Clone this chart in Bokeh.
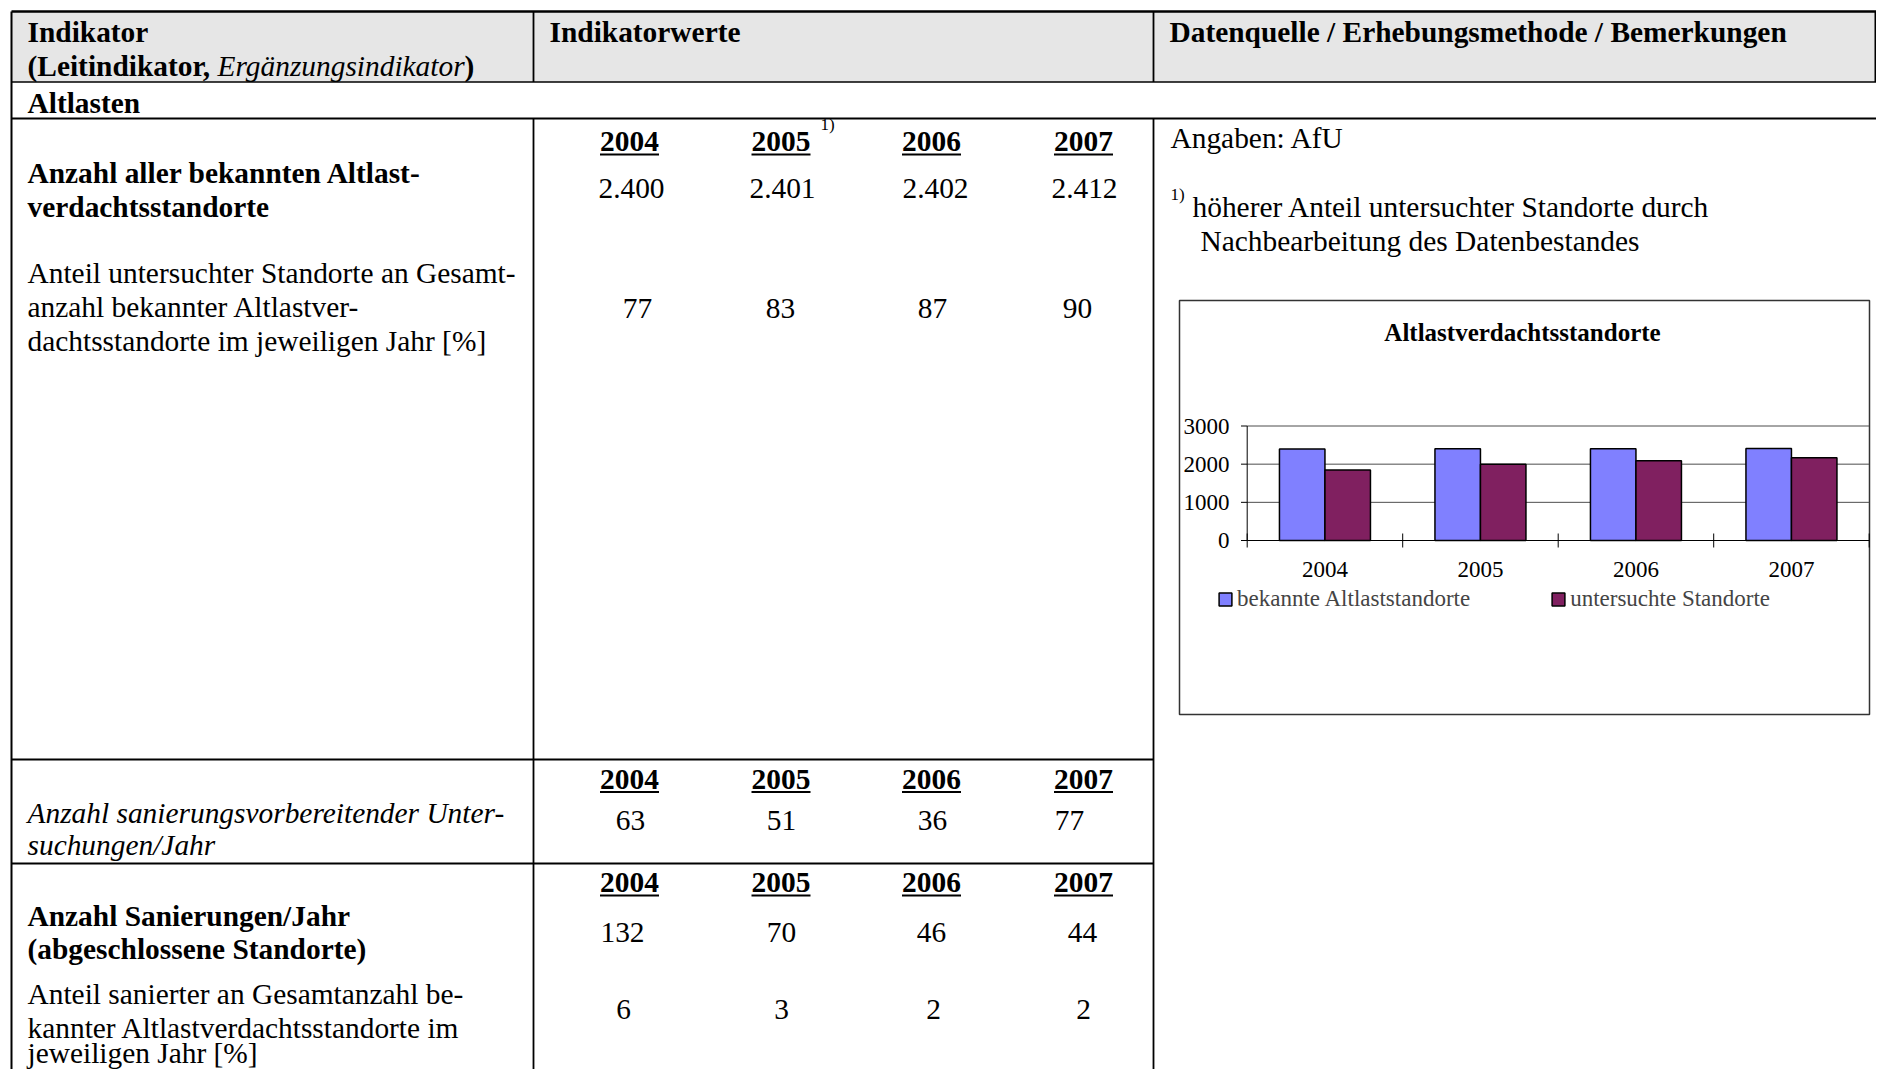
from bokeh.plotting import figure
from bokeh.models import Range1d, ColumnDataSource, Legend, LegendItem
from bokeh.core.properties import value
from bokeh.transform import dodge
from bokeh.embed import file_html
from bokeh.resources import INLINE

# ---------------- data ----------------
years = ["2004", "2005", "2006", "2007"]
year_nums = [2004, 2005, 2006, 2007]
bekannte = [2400, 2401, 2402, 2412]          # Anzahl bekannter Altlastverdachtsstandorte
anteil_untersucht = [77, 83, 87, 90]          # Anteil untersuchter Standorte [%]
untersuchte = [1850, 1995, 2090, 2170]        # untersuchte Standorte
sanierungsvorb = [63, 51, 36, 77]             # sanierungsvorbereitende Untersuchungen/Jahr
sanierungen = [132, 70, 46, 44]               # Sanierungen/Jahr
anteil_saniert = [6, 3, 2, 2]                 # Anteil sanierter [%]
chart_ticks = [0, 1000, 2000, 3000]
series_names = ["bekannte Altlaststandorte", "untersuchte Standorte"]
chart_title = "Altlastverdachtsstandorte"

# ---------------- layout ----------------
FONT = "Liberation Serif"
W, H = 1876, 1069
FS = 29.4   # table font size (px)
CFS = 23    # chart font size (px)

p = figure(width=W, height=H, x_range=Range1d(0, W), y_range=Range1d(H, 0),
           output_backend="svg", toolbar_location=None, x_axis_location=None,
           y_axis_location=None, min_border=0, title=None, outline_line_color=None,
           background_fill_color="white", border_fill_color="white")
p.xgrid.visible = False
p.ygrid.visible = False


def lin_range(v0, p0, v1, p1, pstart, pend):
    k = (p1 - p0) / (v1 - v0)
    return Range1d(start=v0 + (pstart - p0) / k, end=v0 + (pend - p0) / k)


# chart scales (embedded chart area)
p.extra_x_ranges = {"cx": lin_range(year_nums[0] - 0.5, 1246.7, year_nums[-1] + 0.5, 1868.7, 0, W)}
p.extra_y_ranges = {"cy": lin_range(chart_ticks[0], 540, chart_ticks[-1], 425.5, H, 0)}


def put(xs, ys, texts, size=FS, style="normal", align="left", base=True,
        xr="default", yr="default", color="black"):
    # ys are alphabetic baselines (page px) unless base=False (then used as middles)
    yy = [y - 0.34 * size for y in ys] if base else ys
    p.text(x=xs, y=yy, text=texts, text_font=value(FONT), text_font_size=f"{size}px",
           text_font_style=style, text_align=align, text_baseline="middle",
           text_color=color, x_range_name=xr, y_range_name=yr)


def fmt(v):
    return f"{v:,}".replace(",", ".")


# ---- table frame ----
RIGHT = W + 10
p.quad(left=[11], right=[RIGHT], top=[11], bottom=[81.5], fill_color="#E6E6E6", line_color=None)
p.segment(x0=[11], y0=[11], x1=[RIGHT], y1=[11], line_color="black", line_width=2.5)
p.segment(x0=[11], y0=[81.5], x1=[RIGHT], y1=[81.5], line_color="black", line_width=1.5)
p.segment(x0=[11], y0=[118], x1=[RIGHT], y1=[118], line_color="black", line_width=2)
p.segment(x0=[11, 11], y0=[759, 863], x1=[1153, 1153], y1=[759, 863], line_color="black", line_width=2)
p.segment(x0=[11], y0=[11], x1=[11], y1=[H + 5], line_color="black", line_width=2)
p.segment(x0=[W - 1], y0=[11], x1=[W - 1], y1=[81.5], line_color="black", line_width=2)
for xv in (533, 1153):
    p.segment(x0=[xv, xv], y0=[11, 118], x1=[xv, xv], y1=[81.5, H + 5],
              line_color="black", line_width=1.8)

# ---- header ----
put([27], [41], ["Indikator"], style="bold")
put([27], [75], ["(Leitindikator, "], style="bold")
put([217], [75], ["Ergänzungsindikator"], style="italic")
put([464], [75], [")"], style="bold")
put([549], [41], ["Indikatorwerte"], style="bold")
put([1169], [41], ["Datenquelle / Erhebungsmethode / Bemerkungen"], style="bold")
put([27], [112], ["Altlasten"], style="bold")

YEAR_X = [629, 780.5, 931, 1083]


def year_row(base):
    put(YEAR_X, [base] * 4, years, style="bold", align="center")
    p.segment(x0=[x - 29.5 for x in YEAR_X], y0=[base + 3] * 4, x1=[x + 29.5 for x in YEAR_X],
              y1=[base + 3] * 4, line_color="black", line_width=2)


# ---- section 1 ----
put([27, 27], [182, 216], ["Anzahl aller bekannten Altlast-", "verdachtsstandorte"], style="bold")
put([27, 27, 27], [282, 316, 350], ["Anteil untersuchter Standorte an Gesamt-",
                                    "anzahl bekannter Altlastver-",
                                    "dachtsstandorte im jeweiligen Jahr [%]"])
year_row(151)
put([820], [130], ["1)"], size=17)
put([631, 782, 935, 1084], [197.5] * 4, [fmt(v) for v in bekannte], align="center")
put([637, 780, 932, 1077], [318] * 4, [str(v) for v in anteil_untersucht], align="center")

# ---- right column notes ----
put([1170], [147], ["Angaben: AfU"])
put([1170], [200], ["1)"], size=17)
put([1192], [216], ["höherer Anteil untersuchter Standorte durch"])
put([1200], [250], ["Nachbearbeitung des Datenbestandes"])

# ---- section 2 ----
put([27, 27], [822, 854], ["Anzahl sanierungsvorbereitender Unter-", "suchungen/Jahr"], style="italic")
year_row(788.5)
put([630, 781, 932, 1069], [829.5] * 4, [str(v) for v in sanierungsvorb], align="center")

# ---- section 3 ----
put([27, 27], [925, 958.5], ["Anzahl Sanierungen/Jahr", "(abgeschlossene Standorte)"], style="bold")
put([27, 27, 27], [1003.5, 1037, 1062.5], ["Anteil sanierter an Gesamtanzahl be-",
                                           "kannter Altlastverdachtsstandorte im",
                                           "jeweiligen Jahr [%]"])
year_row(892)
put([622, 781, 931, 1082], [942] * 4, [str(v) for v in sanierungen], align="center")
put([623, 781, 933, 1083], [1018.5] * 4, [str(v) for v in anteil_saniert], align="center")

# ---- embedded chart ----
p.quad(left=[1179], right=[1869], top=[300], bottom=[714], fill_color="white",
       line_color="#333333", line_width=1.5)
put([1522], [340], [chart_title], size=25, style="bold", align="center")

x_lo, x_hi = year_nums[0] - 0.5, year_nums[-1] + 0.5
grid_vals = chart_ticks[1:]
p.segment(x0=[x_lo] * len(grid_vals), x1=[x_hi] * len(grid_vals), y0=grid_vals, y1=grid_vals,
          line_color="#4D4D4D", line_width=1, x_range_name="cx", y_range_name="cy")

src = ColumnDataSource(dict(year=year_nums, bekannte=bekannte, untersuchte=untersuchte))
bw = 0.2926
r1 = p.vbar(x=dodge("year", -bw / 2), top="bekannte", bottom=0, width=bw, source=src,
            fill_color="#8080FF", line_color="black", line_width=1.5,
            x_range_name="cx", y_range_name="cy")
r2 = p.vbar(x=dodge("year", bw / 2), top="untersuchte", bottom=0, width=bw, source=src,
            fill_color="#802060", line_color="black", line_width=1.5,
            x_range_name="cx", y_range_name="cy")

# axes
p.segment(x0=[x_lo], x1=[x_lo], y0=[chart_ticks[0]], y1=[chart_ticks[-1]], line_color="black",
          line_width=1, x_range_name="cx", y_range_name="cy")
p.segment(x0=[x_lo], x1=[x_hi], y0=[0], y1=[0], line_color="black", line_width=1.2,
          x_range_name="cx", y_range_name="cy")
p.segment(x0=[1240.5] * 4, x1=[1246.7] * 4, y0=chart_ticks, y1=chart_ticks, line_color="black",
          line_width=1, y_range_name="cy")
cat_edges = [y - 0.5 for y in year_nums] + [year_nums[-1] + 0.5]
p.segment(x0=cat_edges, x1=cat_edges, y0=[533] * 5, y1=[547] * 5, line_color="black",
          line_width=1, x_range_name="cx")
put([1229] * 4, chart_ticks, [str(t) for t in chart_ticks], size=CFS, align="right",
    base=False, yr="cy")
put(year_nums, [577] * 4, years, size=CFS, align="center", xr="cx")

legend = Legend(items=[LegendItem(label=series_names[0], renderers=[r1]),
                       LegendItem(label=series_names[1], renderers=[r2])],
                location=(1217, 457), orientation="horizontal",
                glyph_width=16, glyph_height=16, label_standoff=4, spacing=80,
                padding=0, margin=0, border_line_color=None, background_fill_alpha=0,
                label_text_font=FONT, label_text_font_size=f"{CFS}px", label_height=16)
p.add_layout(legend)

open("out.html", "w").write(file_html(p, INLINE))
